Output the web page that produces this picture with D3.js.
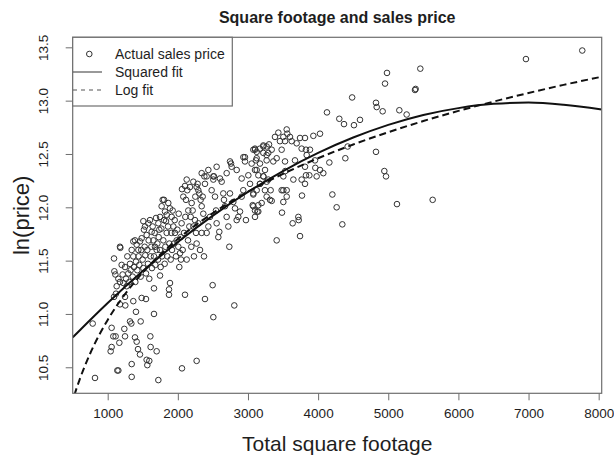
<!DOCTYPE html>
<html>
<head>
<meta charset="utf-8">
<script src="https://cdn.jsdelivr.net/npm/d3@7"></script>
<style>
  html, body { margin: 0; padding: 0; background: #fff; }
  svg { display: block; font-family: "Liberation Sans", Arial, sans-serif; }
</style>
</head>
<body>
<svg id="chart" width="614" height="460"></svg>
<script>
// Sales: [total square footage, ln(price)]
const salesPoints = [
  // low-priced houses below the main band
  [786,10.91],[819,10.40],[1056,10.87],[1080,10.79],[1042,10.65],[1056,10.69],[1113,10.79],[1166,10.73],
  [1152,10.47],[1137,10.47],[1237,10.86],[1247,10.79],[1318,10.93],[1337,10.91],[1342,10.53],[1342,10.41],
  [1389,10.78],[1413,10.74],[1432,10.67],[1460,10.62],[1470,10.93],[1555,10.57],[1565,10.52],[1593,10.56],
  [1612,10.69],[1608,10.79],[1660,11.00],[1698,10.65],[1722,10.38],[2059,10.49],[2268,10.56],[2506,10.97],
  [2805,11.08],[2387,11.14],[2496,11.27],[2102,11.18],[1874,11.18],[1874,11.23],[1888,11.29],[1746,11.36],
  [1660,11.24],[1546,11.14],[1484,11.15],[1403,11.02],[1365,11.12],[1251,11.08],[1247,11.16],[1175,11.30],
  [1118,11.19],[1090,11.16],[1175,11.09],
  // small houses
  [1175,11.63],[1180,11.62],[1090,11.52],[1095,11.40],[1109,11.37],
  [1128,11.26],[1152,11.33],[1213,11.37],[1223,11.29],[1261,11.33],[1270,11.26],[1294,11.38],[1308,11.30],
  [1327,11.41],[1356,11.35],[1365,11.54],[1375,11.44],[1394,11.30],[1403,11.49],[1422,11.41],[1441,11.54],
  [1451,11.46],[1470,11.35],[1479,11.60],[1498,11.51],[1508,11.43],[1527,11.63],[1536,11.55],[1546,11.38],
  [1565,11.60],[1574,11.47],[1584,11.69],[1593,11.33],[1612,11.54],[1622,11.63],[1631,11.43],[1641,11.82],
  [1660,11.54],[1669,11.76],[1679,11.46],[1689,11.90],[1708,11.66],[1717,11.51],[1727,11.72],[1746,11.60],
  [1755,11.44],[1765,11.80],[1774,11.54],[1793,11.69],[1803,11.88],[1812,11.47],[1822,11.63],[1841,11.76],
  [1850,11.54],[1860,11.82],[1879,11.66],[1898,11.51],[1907,11.76],[1917,11.60],[1926,11.97],[1945,11.66],
  [1955,11.88],[1974,11.54],[1993,11.79],[2012,11.94],[2021,11.44],[2040,11.72],[2054,11.85],[2069,11.60],
  [2088,11.76],[2107,11.91],[2126,11.51],[2145,11.69],[2164,11.82],[2192,11.63],[2211,11.97],[2230,11.54],
  [2249,12.10],[2268,11.66],[2292,11.85],[2316,11.60],[2340,11.76],[2354,12.10],[2373,11.54],
  // main band
  [1199,11.46],[1247,11.44],[1280,11.54],[1318,11.47],[1342,11.60],[1365,11.68],[1389,11.69],[1413,11.65],
  [1437,11.60],[1460,11.68],[1484,11.71],[1508,11.87],[1517,11.79],[1532,11.82],[1555,11.74],[1579,11.85],
  [1603,11.88],[1627,11.77],[1651,11.69],[1674,11.63],[1698,11.60],[1722,11.85],[1736,11.79],[1746,11.91],
  [1769,12.01],[1784,12.07],[1803,12.07],[1817,11.96],[1831,11.87],[1841,11.93],[1864,12.04],[1888,11.99],
  [1912,11.91],[1936,11.82],[1959,11.76],[1983,11.69],[2007,11.63],[2031,11.57],[2045,11.51],[2059,12.17],
  [2078,12.10],[2102,12.20],[2116,12.07],[2135,12.16],[2149,11.97],[2173,12.19],[2183,11.91],[2197,12.04],
  [2221,11.82],[2244,11.88],[2259,11.76],[2268,12.19],[2282,12.22],[2292,12.16],[2306,12.13],[2325,12.07],
  [2340,12.01],[2363,11.94],[2378,12.29],[2387,12.22],[2411,11.76],[2435,11.82],[2458,11.91],[2482,12.16],
  [2506,12.26],[2515,12.29],[2530,12.10],[2544,11.97],[2553,11.85],[2577,11.72],[2591,11.77],[2625,12.24],
  [2648,12.13],[2658,12.07],[2672,12.01],[2696,11.91],[2720,11.82],[2734,11.63],[2743,12.13],[2758,12.41],
  [2767,12.38],[2791,12.05],[2815,11.99],[2839,11.88],[2862,11.91],[2886,11.96],[2910,12.10],[2933,12.16],
  [2957,12.47],[2971,11.88],[3005,12.30],[3029,12.22],[3052,12.41],[3067,12.02],[3076,12.13],[3100,11.91],
  [3124,12.35],[3147,11.96],[3171,12.22],[3195,12.04],[3219,12.29],[3242,12.16],[3266,12.49],[3290,12.26],
  [2126,12.26],[2221,12.24],[2340,12.32],[2435,12.35],[2553,12.38],[2696,12.32],[2839,12.35],[2910,12.27],
  [2744,12.43],[2934,12.47],[2957,12.43],[3100,12.55],[3124,12.52],[3171,12.55],[3219,12.58],[3266,12.57],
  [2411,12.29],[2506,12.29],[2601,12.27],
  // mid-sized houses
  [3385,12.66],[3433,12.70],[3552,12.73],[3561,12.69],[3742,12.65],[3813,12.65],[3623,12.62],[3765,12.55],
  [3827,12.54],[3300,12.59],[3219,12.57],[3100,12.54],[3114,12.44],[3243,12.35],[3409,12.46],[3528,12.43],
  [3532,12.34],[3504,12.29],[3670,12.44],[3813,12.38],[3875,12.30],[3076,12.54],[3124,12.46],[3219,12.51],
  [3171,12.41],[3100,12.35],[3148,12.30],[3266,12.44],[3290,12.51],[3338,12.54],[3361,12.43],[3456,12.62],
  [3480,12.54],[3504,12.66],[3528,12.62],[3599,12.66],[3694,12.60],[3837,12.49],[3884,12.54],[3955,12.44],
  [3480,12.16],[3552,12.10],[3314,12.07],[3124,12.16],[3171,12.22],[3219,12.29],[3266,12.24],[3100,11.97],
  [3148,12.02],[3718,11.91],[3504,12.05],[3960,12.37],[4027,12.35],[4074,12.32],[3979,12.29],[3827,12.30],
  [3765,12.26],[3813,12.22],[3770,12.11],[3723,11.88],[3637,11.85],[3742,11.73],[3409,11.69],[3485,11.95],
  [3323,12.16],[3266,12.10],[3338,12.06],[3133,11.96],[3504,12.16],[3552,12.16],[3647,12.26],[3076,12.12],
  [3076,12.01],
  // large houses
  [4825,12.98],[4835,12.94],[4920,12.90],[5158,12.91],[5262,12.87],[4126,12.89],[4302,12.83],[4369,12.78],
  [4511,12.77],[4597,12.82],[4027,12.69],[3932,12.67],[4825,12.52],[4421,12.57],[4388,12.46],[4160,12.42],
  [4944,12.34],[4968,12.29],[4203,12.12],[4264,12.00],[4345,11.84],[5124,12.03],[5633,12.07],
  [7766,13.47],[6963,13.39],[5457,13.30],[5381,13.10],[5390,13.11],[4982,13.26],[4954,13.16],[4485,13.03]
];

// Fitted curves, sampled along total square footage
const fitFootage = [501, 750, 1000, 1500, 2000, 2500, 3000, 3500, 4000, 4500, 5000, 5500, 6000, 6500, 7000, 7500, 8043];
const squaredFit = [10.78, 10.944, 11.103, 11.402, 11.675, 11.922, 12.144, 12.34, 12.51, 12.654, 12.773, 12.866, 12.93, 12.97, 12.982, 12.962, 12.918];
const logFitFootage = [480, 535, 600, 750, 1000, 1250, 1500, 2000, 2500, 3000, 3500, 4000, 4500, 5000, 5500, 6000, 6500, 7000, 7500, 8043];
const logFit = [10.139, 10.26, 10.385, 10.629, 10.944, 11.188, 11.388, 11.702, 11.946, 12.146, 12.314, 12.46, 12.589, 12.704, 12.809, 12.904, 12.991, 13.072, 13.148, 13.224];

const xTicks = [1000, 2000, 3000, 4000, 5000, 6000, 7000, 8000];
const yTicks = [10.5, 11.0, 11.5, 12.0, 12.5, 13.0, 13.5];

const titleText = "Square footage and sales price";
const xTitle = "Total square footage";
const yTitle = "ln(price)";
const legendLabels = ["Actual sales price", "Squared fit", "Log fit"];

// Layout
const plot = { left: 72.7, right: 601.7, top: 37.3, bottom: 393.3 };
const axisGrey = "#6e6e6e";
const inkGrey = "#1e1e1e";
const pointGrey = "#333";

const svg = d3.select("#chart");

const x = d3.scaleLinear().domain([501, 8043]).range([plot.left, plot.right]);
const y = d3.scaleLinear().domain([10.256, 13.594]).range([plot.bottom, plot.top]);

svg.append("defs").append("clipPath").attr("id", "plotClip")
  .append("rect")
  .attr("x", plot.left).attr("y", plot.top)
  .attr("width", plot.right - plot.left).attr("height", plot.bottom - plot.top);

// Points
svg.append("g")
  .selectAll("circle")
  .data(salesPoints)
  .join("circle")
  .attr("cx", d => x(d[0]))
  .attr("cy", d => y(d[1]))
  .attr("r", 2.8)
  .attr("fill", "none")
  .attr("stroke", pointGrey)
  .attr("stroke-width", 1);

// Fit lines
const fitLine = d3.line().x(d => x(d[0])).y(d => y(d[1])).curve(d3.curveMonotoneX);
const lines = svg.append("g").attr("clip-path", "url(#plotClip)");
lines.append("path")
  .attr("d", fitLine(fitFootage.map((f, i) => [f, squaredFit[i]])))
  .attr("fill", "none").attr("stroke", "#111").attr("stroke-width", 2);
lines.append("path")
  .attr("d", fitLine(logFitFootage.map((f, i) => [f, logFit[i]])))
  .attr("fill", "none").attr("stroke", "#111").attr("stroke-width", 2)
  .attr("stroke-dasharray", "7,4");

// Axes
const xAxis = svg.append("g")
  .attr("transform", `translate(0,${plot.bottom})`)
  .call(d3.axisBottom(x).tickValues(xTicks).tickSize(7).tickFormat(d3.format("d")));
const yAxis = svg.append("g")
  .attr("transform", `translate(${plot.left},0)`)
  .call(d3.axisLeft(y).tickValues(yTicks).tickSize(7).tickFormat(d3.format(".1f")));

[xAxis, yAxis].forEach(g => {
  g.select(".domain").remove();
  g.selectAll(".tick line").attr("stroke", axisGrey).attr("stroke-width", 1);
  g.selectAll(".tick text").attr("fill", inkGrey).style("font-size", "13.5px")
    .style("font-family", "'Liberation Sans', Arial, sans-serif");
});
xAxis.selectAll(".tick text").attr("dy", null).attr("y", 25);
// y tick labels run upward, as in base R graphics
yAxis.selectAll(".tick text")
  .attr("x", 0).attr("y", 0).attr("dy", null)
  .attr("text-anchor", "middle")
  .attr("transform", `translate(${48.5 - plot.left},0) rotate(-90)`);

// Plot frame
svg.append("rect")
  .attr("x", plot.left).attr("y", plot.top)
  .attr("width", plot.right - plot.left).attr("height", plot.bottom - plot.top)
  .attr("fill", "none").attr("stroke", axisGrey).attr("stroke-width", 1.2);

// Titles
svg.append("text")
  .attr("x", (plot.left + plot.right) / 2).attr("y", 23)
  .attr("text-anchor", "middle")
  .attr("font-weight", "bold").attr("font-size", "16px").attr("fill", inkGrey)
  .text(titleText);
svg.append("text")
  .attr("x", (plot.left + plot.right) / 2).attr("y", 451)
  .attr("text-anchor", "middle")
  .attr("font-size", "21px").attr("fill", inkGrey)
  .text(xTitle);
svg.append("text")
  .attr("transform", `translate(29,${(plot.top + plot.bottom) / 2}) rotate(-90)`)
  .attr("text-anchor", "middle")
  .attr("font-size", "22px").attr("fill", inkGrey)
  .text(yTitle);

// Legend
const legend = svg.append("g");
legend.append("rect")
  .attr("x", plot.left).attr("y", plot.top)
  .attr("width", 232.3 - plot.left).attr("height", 106 - plot.top)
  .attr("fill", "#fff").attr("stroke", axisGrey).attr("stroke-width", 1.2);
const rowY = [54, 72, 90];
legend.append("circle")
  .attr("cx", 89.3).attr("cy", rowY[0]).attr("r", 2.8)
  .attr("fill", "none").attr("stroke", pointGrey).attr("stroke-width", 1);
legend.append("line")
  .attr("x1", 73).attr("x2", 102).attr("y1", rowY[1]).attr("y2", rowY[1])
  .attr("stroke", "#555").attr("stroke-width", 1.2);
legend.append("line")
  .attr("x1", 73).attr("x2", 102).attr("y1", rowY[2]).attr("y2", rowY[2])
  .attr("stroke", "#555").attr("stroke-width", 1.2).attr("stroke-dasharray", "4,4");
legend.selectAll("text.lab")
  .data(legendLabels)
  .join("text")
  .attr("class", "lab")
  .attr("x", 115).attr("y", (d, i) => rowY[i] + 5)
  .attr("font-size", "14px").attr("fill", inkGrey)
  .text(d => d);
</script>
</body>
</html>
